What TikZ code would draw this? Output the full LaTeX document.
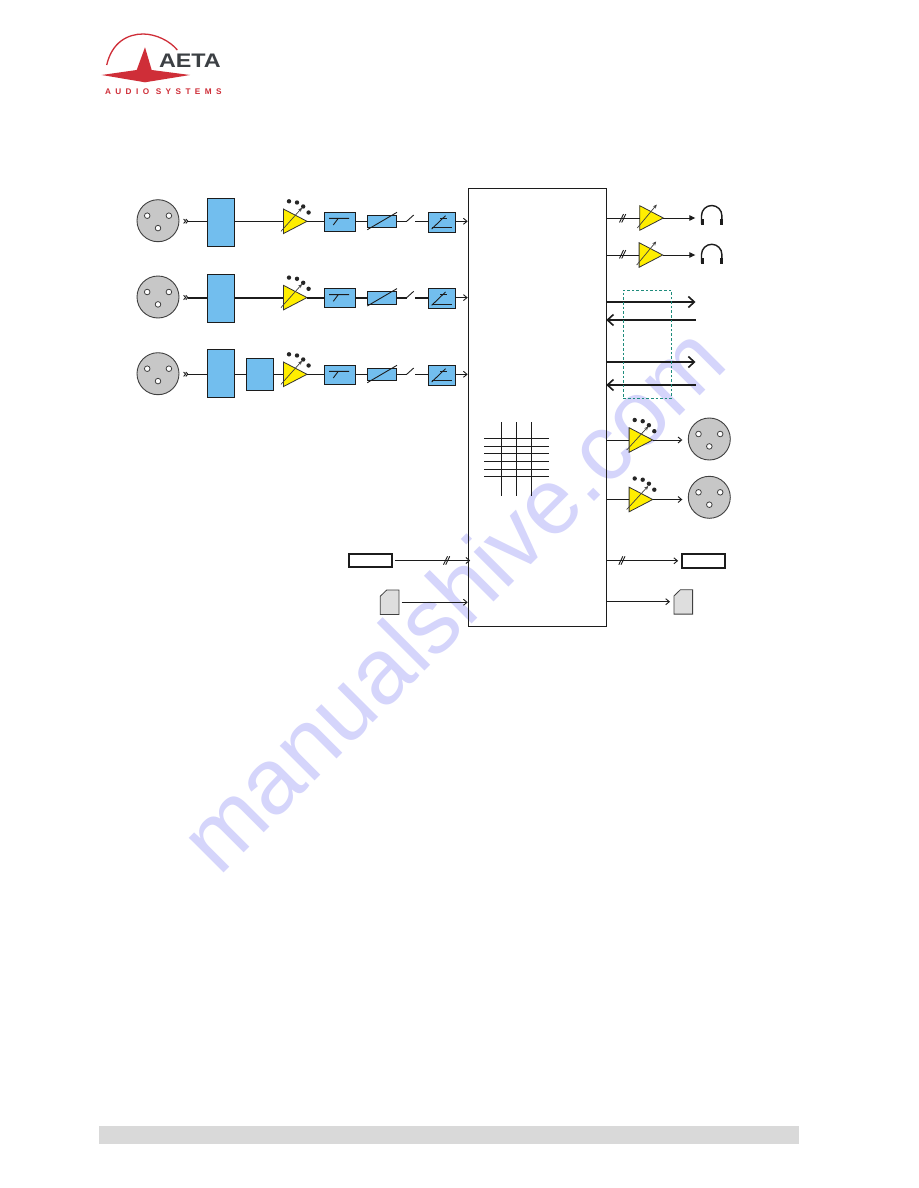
\documentclass[tikz,border=0pt]{standalone}
\usepackage{fontspec}
\usetikzlibrary{arrows.meta}
\setmainfont{Liberation Sans}
\newfontfamily\logosub[LetterSpace=54]{Liberation Sans}
\definecolor{bluefill}{HTML}{72BEEE}
\definecolor{yellowfill}{HTML}{FFEE00}
\definecolor{ink}{HTML}{1C1C1C}
\definecolor{logored}{HTML}{CF2E38}
\definecolor{logogrey}{HTML}{3C4044}
\definecolor{wm}{HTML}{D5D5FB}
\definecolor{teal2}{HTML}{1E8C7C}
\tikzset{
  base/.style={inner sep=0pt,outer sep=0pt},
  bluebox/.style={base,draw=ink,fill=bluefill,line width=0.9pt},
  xlrbody/.style={base,circle,draw=black!75,fill=black!22,line width=0.9pt,minimum size=42pt},
  xlrhole/.style={base,circle,draw=black!75,fill=white,line width=0.8pt,minimum size=5.6pt},
  plug/.style={base,draw=ink,fill=white,line width=2pt,minimum width=43.5pt,minimum height=13.5pt},
  wire/.style={draw=ink,line width=0.9pt},
  thickwire/.style={draw=ink,line width=2pt},
  arrowwire/.style={wire,shorten >=1pt,-{Straight Barb[length=3.6pt,width=6pt,line width=0.9pt]}},
  solidwire/.style={wire,-{Triangle[length=6pt,width=5.5pt]}},
  busarrow/.style={draw=ink,line width=2pt,-{Straight Barb[length=6pt,width=11pt,line width=1.6pt]}},
  symb/.style={draw=ink,line width=0.9pt},
}
\newcommand{\ampl}[4]{%
  \coordinate (#1in) at ({#2-23.6},#3);
  \coordinate (#1out) at (#2,#3);
  \draw[draw=black!80,fill=yellowfill,line width=0.8pt] ({#2-23.6},{#3-12.3}) -- (#2,#3) -- ({#2-23.6},{#3+12.3}) -- cycle;
  \draw[draw=black!75,line width=0.7pt,-{Stealth[length=4pt,width=3.5pt]}] ({#2-26},{#3+10}) -- ({#2-#4},{#3-13.5});
}
\newcommand{\ampdots}[2]{%
  \foreach \dx/\dy in {-18/-20,-10/-18.8,-3.8/-14.8,1.6/-8.8}
    \fill[black!85] ({#1+\dx},{#2+\dy}) circle (2.2pt);
}
\newcommand{\xlr}[3]{%
  \node[xlrbody] (#1) at (#2,#3) {};
  \node[xlrhole] (#1a) at ({#2-10.8},{#3-5}) {};
  \node[xlrhole] (#1b) at ({#2+10.9},{#3-5}) {};
  \node[xlrhole] (#1c) at (#2,{#3+7.4}) {};
}
\newcommand{\dslash}[2]{%
  \draw[symb] ({#1-3.2},{#2+4.2}) -- ({#1+0.8},{#2-4.2});
  \draw[symb] ({#1-1},{#2+4.2}) -- ({#1+3},{#2-4.2});
}
\newcommand{\phones}[2]{%
  \draw[draw=ink,line width=1.4pt] ({#1-10.2},{#2+8}) -- ({#1-10.2},#2) arc[start angle=180,end angle=0,radius=10.2pt] -- ({#1+10.2},{#2+8});
  \fill[ink] ({#1-11},{#2+3}) rectangle ({#1-8.2},{#2+9.5});
  \fill[ink] ({#1+8.2},{#2+3}) rectangle ({#1+11},{#2+9.5});
}
\newcommand{\card}[2]{%
  \draw[draw=black!75,fill=black!13,line width=0.8pt] (#1,{#2+6.2}) -- ({#1+6.4},#2) -- ({#1+18.6},#2) -- ({#1+18.6},{#2+24.4}) -- (#1,{#2+24.4}) -- cycle;
}
% one input row, drawn at y=221; #1 prefix, #2 wire style, #3 arrow width, #4 transformer box centre y
\newcommand{\inrow}[4]{%
  \xlr{#1x}{158}{220.7}
  \node[bluebox,minimum width=27pt,minimum height=48pt] (#1t) at (220.8,#4) {};
  \node[bluebox,minimum width=31.4pt,minimum height=19pt] (#1f) at (340,221.8) {};
  \node[bluebox,minimum width=29.4pt,minimum height=12.4pt] (#1g) at (382,221.5) {};
  \node[bluebox,minimum width=27.4pt,minimum height=20.4pt] (#1c) at (442,222.2) {};
  \coordinate (#1s1) at (406.7,221.3);
  \coordinate (#1s2) at (415,221.3);
  \coordinate (#1i) at (188,221.3);
  \draw[symb] (183.6,219) -- (185.6,221.2) -- (183.6,223.4) (185.8,219) -- (187.8,221.2) -- (185.8,223.4);
  \draw[#2] (#1g.east |- #1s1) -- (#1s1);
  \draw[#2] (#1s2) -- (#1c.west |- #1s2);
  \draw[symb] (#1s1) -- (413.7,215);
  \draw[symb] (329,218.3) -- (349,218.3) (338.3,218.3) -- (333.3,225);
  \draw[symb] (367.3,229.7) -- (397,212.3);
  \draw[symb] (431.7,227.7) -- (452,227.7);
  \draw[symb] (431.7,229) -- (445.5,215.7);
  \draw[symb] (440,218.3) -- (447.3,218.3);
  \draw[arrowwire,line width=#3] (#1c.east |- #1s1) -- (#1c.east |- #1s1 -| main.west);
}
\begin{document}
\begin{tikzpicture}[x=1pt,y=-1pt]
\useasboundingbox (0,0) rectangle (918,1188);
\fill[white] (0,0) rectangle (918,1188);
% watermark
\node[base,anchor=base west,rotate=45,text=wm,font=\fontsize{93}{93}\selectfont] (wmark) at (219,877) {manualshive.com};
% logo
\draw[draw=logored,line width=1.3pt] (106.7,65) .. controls (112,42) and (128,34) .. (143,34) .. controls (156,34) and (170,41) .. (177.3,50);
\fill[logored] (145,47.3) -- (151.7,70) -- (190,75) -- (145,82.3) -- (101.7,75) -- (136.7,70) -- cycle;
\node[base,anchor=base west,text=logogrey,font=\fontsize{19.6}{20}\selectfont\bfseries,transform shape,xscale=1.19] (aeta) at (159,67.4) {AETA};
\node[base,anchor=base west,text=logored,font=\fontsize{8.2}{9}\selectfont\logosub\bfseries] (audio) at (105,95) {AUDIO SYSTEMS};
% footer
\fill[black!15] (99,1125.5) rectangle (799,1144);
% main box
\node[base,draw=ink,line width=1pt,minimum width=137.6pt,minimum height=438pt] (main) at (537.5,407) {};
% input rows
\inrow{a}{wire}{0.9pt}{222.3}
\begin{scope}[shift={(0,76.3)}]
  \inrow{b}{thickwire}{1.6pt}{221.7}
\end{scope}
\begin{scope}[shift={(0,153)}]
  \inrow{d}{wire}{0.9pt}{220.3}
  \node[bluebox,minimum width=27.7pt,minimum height=32pt] (de) at (259.8,221.3) {};
\end{scope}
\ampl{a1}{307}{221.3}{5}\ampdots{307}{221.3}
\ampl{a2}{307}{297.6}{5}\ampdots{307}{297.6}
\ampl{a3}{307}{374.3}{5}\ampdots{307}{374.3}
% row wires
\draw[wire] (ai) -- (at.west |- ai);
\draw[wire] (at.east |- a1in) -- (a1in);
\draw[wire] (a1out) -- (af.west |- a1out);
\draw[wire] (af.east |- a1out) -- (ag.west |- a1out);
\draw[thickwire] (bi) -- (bt.west |- bi);
\draw[thickwire] (bt.east |- a2in) -- (a2in);
\draw[thickwire] (a2out) -- (bf.west |- a2out);
\draw[thickwire] (bf.east |- a2out) -- (bg.west |- a2out);
\draw[wire] (di) -- (dt.west |- di);
\draw[wire] (dt.east |- a3in) -- (de.west |- a3in);
\draw[wire] (de.east |- a3in) -- (a3in);
\draw[wire] (a3out) -- (df.west |- a3out);
\draw[wire] (df.east |- a3out) -- (dg.west |- a3out);
% matrix
\foreach \gx in {501.7,516.7,531.7} \draw[symb] (\gx,422) -- (\gx,496);
\foreach \gy in {438.3,446,453.3,461.3,469.3,476.3} \draw[symb] (484,\gy) -- (549,\gy);
% data inputs
\node[plug] (inplug) at (370.5,560.5) {};
\draw[arrowwire] ([xshift=2.5pt]inplug.east) -- ([xshift=2.5pt]inplug.east -| main.west);
\dslash{446.7}{560.5}
\card{380.3}{590}
\coordinate (incard) at (401.7,602.3);
\draw[arrowwire] (incard) -- (incard -| main.west);
% headphone outputs
\ampl{h1}{663.3}{218}{6.5}
\ampl{h2}{662.7}{255}{6.5}
\coordinate (hp1) at (695.3,218);
\coordinate (hp2) at (695.3,255);
\draw[wire] (h1in -| main.east) -- (h1in);
\draw[solidwire] (h1out) -- (hp1);
\draw[wire] (h2in -| main.east) -- (h2in);
\draw[solidwire] (h2out) -- (hp2);
\dslash{622.7}{218.3}
\dslash{622.7}{254.3}
\phones{711.7}{215.7}
\phones{711.7}{254.5}
% bus arrows
\coordinate (n1) at (695.5,302);
\coordinate (n2) at (695.5,320);
\coordinate (n3) at (695.5,362);
\coordinate (n4) at (695.5,385);
\draw[busarrow] (n1 -| main.east) -- (n1);
\draw[busarrow] (n2) -- (n2 -| main.east);
\draw[busarrow,line width=1.5pt] (n3 -| main.east) -- (n3);
\draw[busarrow] (n4) -- (n4 -| main.east);
\node[base,draw=teal2,line width=0.8pt,dash pattern=on 2.6pt off 2pt,minimum width=48pt,minimum height=108.3pt] (dbox) at (647.3,344.2) {};
% line outputs
\xlr{o1}{709.3}{439}
\xlr{o2}{709.3}{497.3}
\ampl{c1}{652.7}{440}{4.5}\ampdots{652.7}{440}
\ampl{c2}{652.7}{499.5}{4.5}\ampdots{652.7}{498.5}
\draw[wire] (c1in -| main.east) -- (c1in);
\draw[arrowwire] (c1out) -- (683.3,440);
\draw[wire] (c2in -| main.east) -- (c2in);
\draw[arrowwire] (c2out) -- (683.3,499.5);
% data outputs
\node[plug] (outplug) at (703.4,560.8) {};
\draw[arrowwire] (outplug.west -| main.east) -- ([xshift=-2.5pt]outplug.west);
\dslash{622}{560.5}
\card{674}{589.7}
\coordinate (outcard) at (671,601.7);
\draw[arrowwire] (outcard -| main.east) -- (outcard);
\end{tikzpicture}
\end{document}
